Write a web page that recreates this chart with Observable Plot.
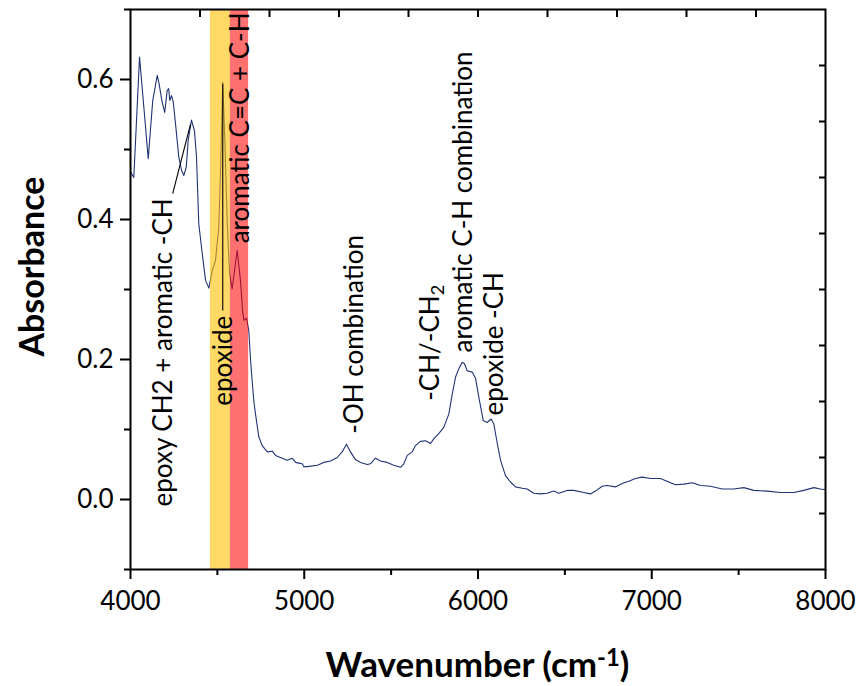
<!DOCTYPE html>
<html>
<head>
<meta charset="utf-8">
<script src="https://cdn.jsdelivr.net/npm/d3@7"></script>
<script src="https://cdn.jsdelivr.net/npm/@observablehq/plot@0.6"></script>
<style>
  html, body { margin: 0; padding: 0; background: white; }
</style>
</head>
<body>
<div id="chart"></div>
<script>
// Wavenumber (cm-1)
const wavenumber = [
  4000,4019,4052,4077,4102,4128,4154,4163,4182,4197,
  4211,4220,4226,4236,4246,4259,4278,4294,4307,4321,
  4332,4351,4368,4380,4393,4413,4432,4451,4470,4489,
  4508,4518,4531,4543,4557,4570,4585,4614,4633,4645,
  4652,4668,4681,4691,4700,4710,4719,4738,4758,4787,
  4816,4835,4863,4902,4931,4950,4969,4988,4997,5017,
  5075,5113,5151,5190,5218,5243,5266,5295,5324,5362,
  5381,5410,5439,5477,5515,5554,5573,5593,5621,5640,
  5669,5698,5727,5746,5774,5803,5832,5852,5871,5890,
  5909,5922,5938,5967,5986,6005,6030,6053,6076,6091,
  6111,6130,6158,6187,6216,6254,6283,6321,6360,6398,
  6436,6465,6513,6551,6609,6647,6676,6715,6744,6791,
  6830,6868,6906,6945,6993,7050,7098,7137,7185,7233,
  7281,7338,7406,7472,7530,7587,7664,7741,7818,7875,
  7933,7971,8000
];
// Absorbance
const absorbance = [
  0.468,0.460,0.632,0.560,0.487,0.570,0.606,0.596,0.568,0.553,
  0.584,0.587,0.570,0.577,0.568,0.537,0.489,0.470,0.463,0.475,
  0.513,0.542,0.527,0.489,0.394,0.351,0.313,0.302,0.327,0.341,
  0.389,0.466,0.596,0.513,0.394,0.323,0.301,0.356,0.313,0.270,
  0.256,0.259,0.241,0.199,0.170,0.140,0.123,0.090,0.077,0.068,
  0.069,0.063,0.060,0.056,0.059,0.053,0.052,0.051,0.047,0.047,
  0.049,0.053,0.055,0.060,0.068,0.079,0.068,0.057,0.053,0.050,
  0.051,0.059,0.055,0.053,0.049,0.046,0.051,0.063,0.068,0.077,
  0.083,0.084,0.080,0.087,0.094,0.103,0.122,0.151,0.175,0.187,
  0.196,0.194,0.184,0.182,0.173,0.146,0.113,0.110,0.115,0.108,
  0.080,0.056,0.034,0.025,0.018,0.016,0.015,0.009,0.008,0.009,
  0.012,0.009,0.013,0.013,0.010,0.008,0.012,0.019,0.020,0.018,
  0.023,0.026,0.030,0.032,0.030,0.030,0.025,0.021,0.022,0.024,
  0.020,0.019,0.015,0.015,0.017,0.013,0.012,0.010,0.010,0.013,
  0.017,0.015,0.014
];

// Highlighted bands
const bandStart = [4460, 4575];
const bandEnd = [4575, 4680];
const bandColor = ["#ffc000", "#ff0000"];
const bandOpacity = [0.6, 0.56];

// Annotations (rotated labels)
const labelText = [
  "epoxy CH2 + aromatic -CH",
  "epoxide",
  "aromatic C=C + C-H",
  "-OH combination",
  "-CH/-CH2",
  "aromatic C-H combination",
  "epoxide -CH"
];
const labelX = [4190, 4535, 4633, 5289, 5727, 5916, 6095];
const labelY = [-0.01, 0.134, 0.366, 0.094, 0.141, 0.21, 0.12];

// Leader lines
const leaderX1 = [4243, 4531];
const leaderY1 = [0.437, 0.27];
const leaderX2 = [4345, 4531];
const leaderY2 = [0.536, 0.594];

// Ticks
const xMajor = [4000, 5000, 6000, 7000, 8000];
const xMinor = [4500, 5500, 6500, 7500];
const yMajor = [0.0, 0.2, 0.4, 0.6];
const yMinor = [-0.1, 0.1, 0.3, 0.5, 0.7];
const topTicks = [4400, 4800, 5200, 5600, 6000, 6400, 6800, 7200, 7600];
const rightTicks = [-0.02, 0.06, 0.14, 0.22, 0.30, 0.38, 0.46, 0.54, 0.62];

// Axis titles
const yTitle = "Absorbance";
const xTitle = "Wavenumber (cm-1)";

const spectrum = wavenumber.map((w, i) => ({w, a: absorbance[i]}));
const bands = bandStart.map((s, i) => ({x1: s, x2: bandEnd[i], fill: bandColor[i], op: bandOpacity[i]}));
const labels = labelText.map((t, i) => ({t, x: labelX[i], y: labelY[i]}));
const leaders = leaderX1.map((x1, i) => ({x1, y1: leaderY1[i], x2: leaderX2[i], y2: leaderY2[i]}));

const FONT = "Lato";
const empty = () => "";

const svg = Plot.plot({
  width: 860,
  height: 686,
  marginLeft: 130,
  marginRight: 35,
  marginTop: 9,
  marginBottom: 117,
  style: {fontFamily: FONT, background: "white", color: "black"},
  x: {domain: [4000, 8000]},
  y: {domain: [-0.1, 0.7]},
  marks: [
    Plot.line(spectrum, {x: "w", y: "a", stroke: "#1f3476", strokeWidth: 1.1}),
    ...bands.map(b => Plot.rect([b], {x1: "x1", x2: "x2", fill: b.fill, fillOpacity: b.op})),
    Plot.link(leaders, {x1: "x1", y1: "y1", x2: "x2", y2: "y2", stroke: "black", strokeWidth: 1.1}),
    Plot.text(labels, {x: "x", y: "y", text: "t", rotate: -90, textAnchor: "start", fontSize: 26, fontFamily: FONT, fill: "black"}),
    Plot.axisX({ticks: xMajor, tickSize: 10, tickPadding: 12, tickFormat: "d", fontSize: 26, strokeWidth: 2, label: null}),
    Plot.axisX({ticks: xMinor, tickSize: 6, tickFormat: empty, strokeWidth: 2, label: null}),
    Plot.axisY({ticks: yMajor, tickSize: 10, tickPadding: 7, tickFormat: ".1f", fontSize: 26, strokeWidth: 2, label: null}),
    Plot.axisY({ticks: yMinor, tickSize: 6, tickFormat: empty, strokeWidth: 2, label: null}),
    Plot.axisX({anchor: "top", ticks: topTicks, tickSize: -7, tickFormat: empty, strokeWidth: 2, label: null}),
    Plot.axisY({anchor: "right", ticks: rightTicks, tickSize: -7, tickFormat: empty, strokeWidth: 2, label: null}),
    Plot.frame({stroke: "black", strokeWidth: 2}),
    Plot.text([yTitle], {frameAnchor: "left", fontSize: 34, fontWeight: "bold", fontFamily: FONT, fill: "black"}),
    Plot.text([xTitle], {frameAnchor: "bottom", fontSize: 35, fontWeight: "bold", fontFamily: FONT, fill: "black"})
  ]
});

// Title placement and sub/superscripts
d3.select(svg).selectAll("text").each(function() {
  const t = this.textContent;
  const sel = d3.select(this);
  if (t === "-CH/-CH2") {
    sel.text("");
    sel.append("tspan").text("-CH/-CH");
    sel.append("tspan").attr("dy", "0.3em").attr("font-size", "70%").text("2");
  } else if (t === xTitle) {
    ["x", "y", "dx", "dy"].forEach(a => this.removeAttribute(a));
    sel.attr("transform", "translate(477,676)").attr("text-anchor", "middle");
    sel.text("");
    sel.append("tspan").text("Wavenumber (cm");
    sel.append("tspan").attr("dy", "-0.45em").attr("font-size", "68%").text("-1");
    sel.append("tspan").attr("dy", "0.306em").text(")");
  } else if (t === yTitle) {
    ["x", "y", "dx", "dy"].forEach(a => this.removeAttribute(a));
    sel.attr("transform", "translate(43,266) rotate(-90)").attr("text-anchor", "middle");
  }
});

document.getElementById("chart").appendChild(svg);
</script>
</body>
</html>
